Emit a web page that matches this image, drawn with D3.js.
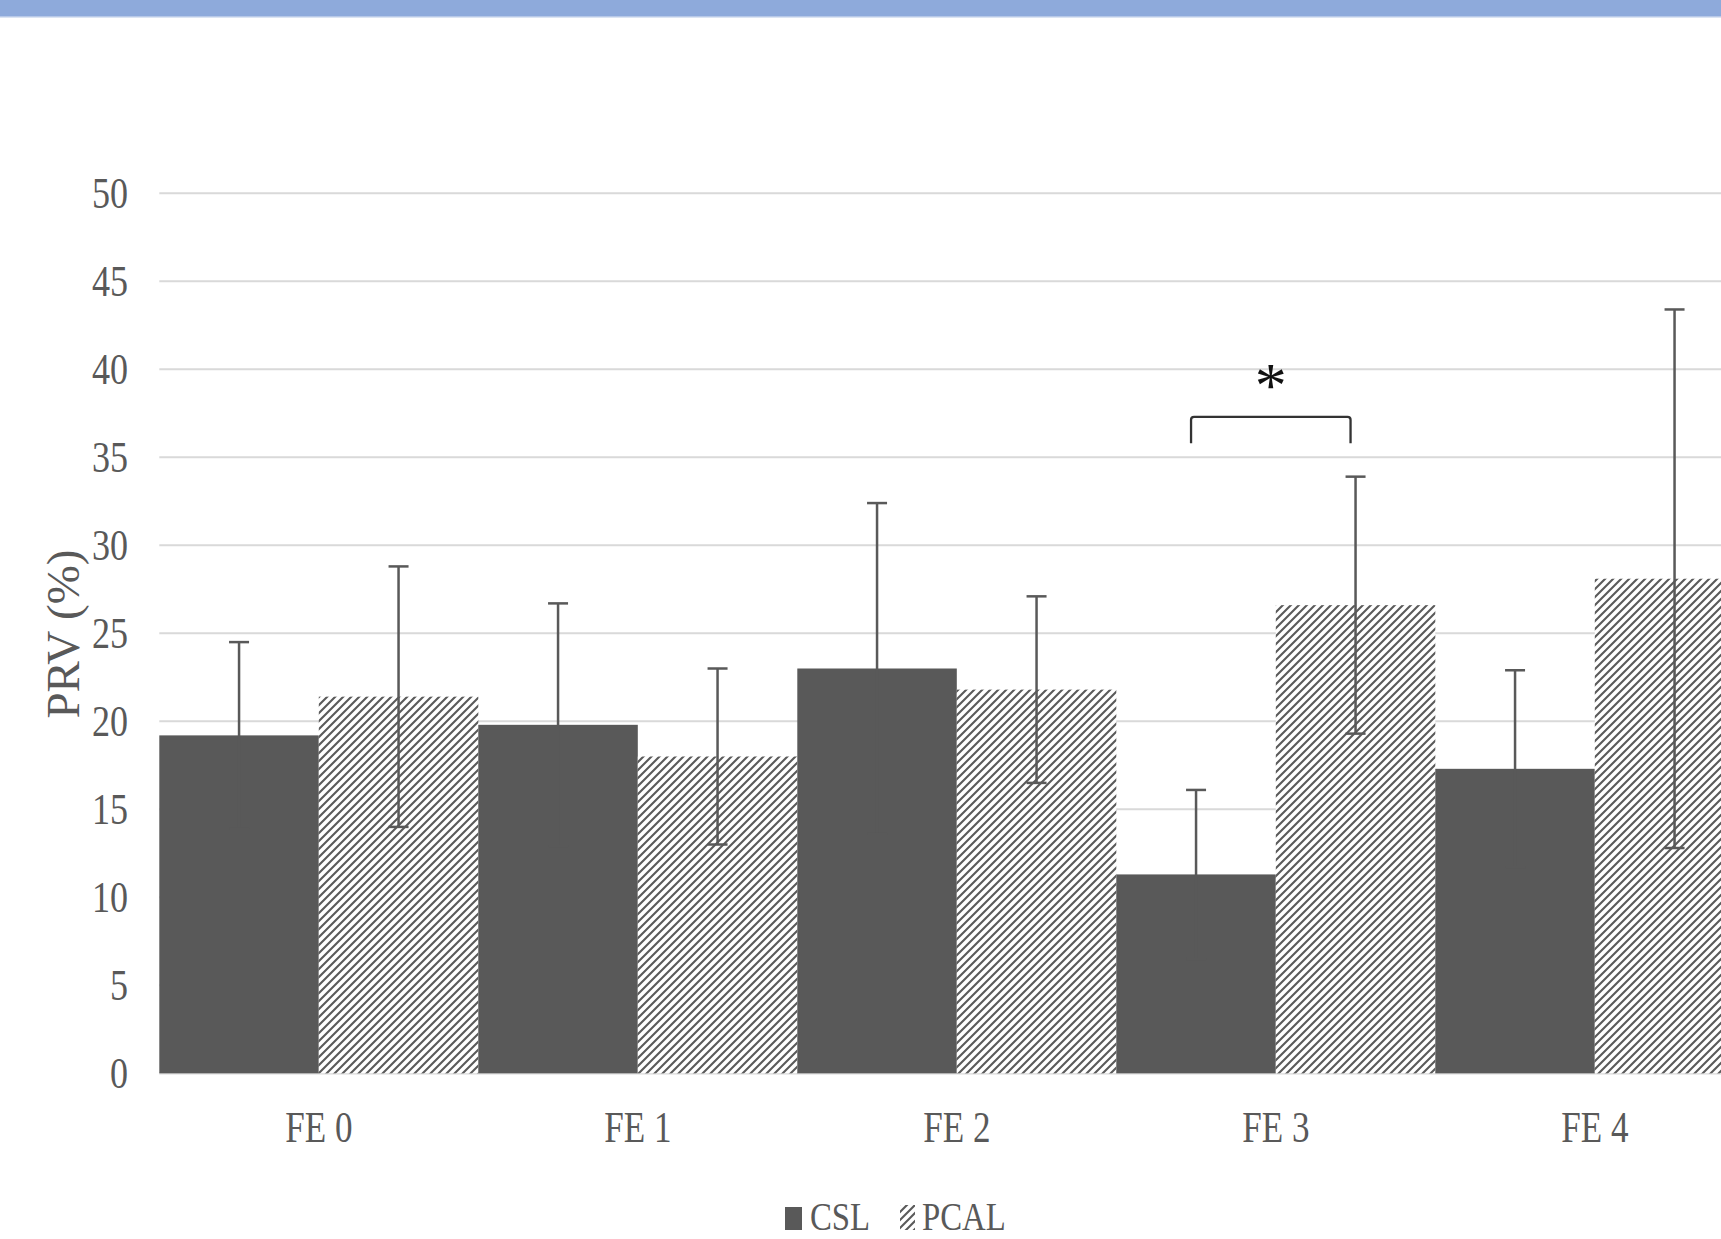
<!DOCTYPE html>
<html>
<head>
<meta charset="utf-8">
<script src="https://cdn.jsdelivr.net/npm/d3@7"></script>
<style>
    body { margin: 0; background: #fff; }
    svg { display: block; }
    text { font-family: 'Liberation Serif', 'Times New Roman', serif; }
</style>
</head>
<body>
<div id="chart"></div>
<script>
// Categories and series
const categories = ['FE 0', 'FE 1', 'FE 2', 'FE 3', 'FE 4'];
const seriesNames = ['CSL', 'PCAL'];
const cslMean = [19.2, 19.8, 23.0, 11.3, 17.3];
const cslSd = [5.3, 6.9, 9.4, 4.8, 5.6];
const pcalMean = [21.4, 18.0, 21.8, 26.6, 28.1];
const pcalSd = [7.4, 5.0, 5.3, 7.3, 15.3];
const yTicks = [0, 5, 10, 15, 20, 25, 30, 35, 40, 45, 50];
// significance bracket: category, bottom and top of the bracket, star level
const sigCategory = 'FE 3';
const sigBracket = [35.8, 37.3];
const sigStar = 40.1;

const W = 1721, H = 1239;
const margin = { top: 193.3, left: 159.3, bottom: H - 1073.3 };
const bandW = 319;

const svg = d3.select('#chart').append('svg')
    .attr('width', W)
    .attr('height', H);

// hatch pattern for PCAL (white ground, diagonal lines)
const defs = svg.append('defs');
const pat = defs.append('pattern')
    .attr('id', 'hatch')
    .attr('patternUnits', 'userSpaceOnUse')
    .attr('width', 8)
    .attr('height', 8);
pat.append('rect').attr('width', 8).attr('height', 8).attr('fill', '#fff');
pat.append('path')
    .attr('d', 'M-2,2 l4,-4 M0,8 l8,-8 M6,10 l4,-4')
    .attr('stroke', '#5a5a5a')
    .attr('stroke-width', 2.1);

// top band
svg.append('rect').attr('x', 0).attr('y', 0).attr('width', W).attr('height', 16).attr('fill', '#8eaadb');
svg.append('rect').attr('x', 0).attr('y', 16).attr('width', W).attr('height', 1.5).attr('fill', '#b8c9e8');

const x = d3.scaleBand()
    .domain(categories)
    .range([margin.left, margin.left + bandW * categories.length])
    .padding(0);
const xs = d3.scaleBand()
    .domain(seriesNames)
    .range([0, x.bandwidth()])
    .padding(0);
const y = d3.scaleLinear()
    .domain([0, 50])
    .range([H - margin.bottom, margin.top]);

// gridlines
svg.append('g').selectAll('line')
    .data(yTicks)
    .enter().append('line')
    .attr('x1', margin.left)
    .attr('x2', W)
    .attr('y1', d => y(d))
    .attr('y2', d => y(d))
    .attr('stroke', '#d9d9d9')
    .attr('stroke-width', d => d === 0 ? 2.5 : 2);

// y tick labels
svg.append('g').selectAll('text')
    .data(yTicks)
    .enter().append('text')
    .attr('transform', d => `translate(128,${y(d)}) scale(0.82,1)`)
    .attr('dy', '0.34em')
    .attr('text-anchor', 'end')
    .attr('font-size', 44)
    .attr('fill', '#595959')
    .text(d => d);

// y axis title
svg.append('text')
    .attr('transform', 'translate(79,634) rotate(-90)')
    .attr('text-anchor', 'middle')
    .attr('font-size', 47)
    .attr('fill', '#595959')
    .text('PRV (%)');

const rows = categories.map((c, i) => [
    { cat: c, s: 'CSL', v: cslMean[i], e: cslSd[i] },
    { cat: c, s: 'PCAL', v: pcalMean[i], e: pcalSd[i] }
]).flat();

// bars
svg.append('g').selectAll('rect')
    .data(rows)
    .enter().append('rect')
    .attr('x', d => x(d.cat) + xs(d.s))
    .attr('y', d => y(d.v))
    .attr('width', xs.bandwidth())
    .attr('height', d => y(0) - y(d.v))
    .attr('fill', d => d.s === 'CSL' ? '#595959' : 'url(#hatch)');

// error bars (same grey as the solid bars, so the lower half hides in them)
const eb = svg.append('g').attr('stroke', '#595959').attr('stroke-width', 2.5);
rows.forEach(d => {
    const cx = x(d.cat) + xs(d.s) + xs.bandwidth() / 2;
    eb.append('line').attr('x1', cx).attr('x2', cx).attr('y1', y(d.v - d.e)).attr('y2', y(d.v + d.e));
    eb.append('line').attr('x1', cx - 10).attr('x2', cx + 10).attr('y1', y(d.v + d.e)).attr('y2', y(d.v + d.e));
    eb.append('line').attr('x1', cx - 10).attr('x2', cx + 10).attr('y1', y(d.v - d.e)).attr('y2', y(d.v - d.e));
});

// significance bracket
const bx0 = x(sigCategory) + xs('CSL') + xs.bandwidth() / 2 - 5;
const bx1 = x(sigCategory) + xs('PCAL') + xs.bandwidth() / 2 - 5;
const by0 = y(sigBracket[0]), by1 = y(sigBracket[1]);
svg.append('path')
    .attr('d', `M${bx0},${by0} L${bx0},${by1 + 3} Q${bx0},${by1} ${bx0 + 3},${by1} L${bx1 - 3},${by1} Q${bx1},${by1} ${bx1},${by1 + 3} L${bx1},${by0}`)
    .attr('fill', 'none')
    .attr('stroke', '#333')
    .attr('stroke-width', 2.3);
svg.append('text')
    .attr('x', (bx0 + bx1) / 2)
    .attr('y', y(sigStar))
    .attr('dy', '0.62em')
    .attr('text-anchor', 'middle')
    .attr('font-size', 64)
    .attr('fill', '#111')
    .text('*');

// x labels
svg.append('g').selectAll('text')
    .data(categories)
    .enter().append('text')
    .attr('transform', d => `translate(${x(d) + x.bandwidth() / 2},1141.7) scale(0.78,1)`)
    .attr('text-anchor', 'middle')
    .attr('font-size', 45)
    .attr('fill', '#595959')
    .text(d => d);

// legend
const lg = svg.append('g');
lg.append('rect').attr('x', 785).attr('y', 1207).attr('width', 17).attr('height', 23).attr('fill', '#595959');
lg.append('text').attr('transform', 'translate(810,1230) scale(0.82,1)').attr('font-size', 40).attr('fill', '#595959').text('CSL');
lg.append('rect').attr('x', 900).attr('y', 1205).attr('width', 15).attr('height', 25).attr('fill', 'url(#hatch)');
lg.append('text').attr('transform', 'translate(922,1230) scale(0.82,1)').attr('font-size', 40).attr('fill', '#595959').text('PCAL');
</script>
</body>
</html>
